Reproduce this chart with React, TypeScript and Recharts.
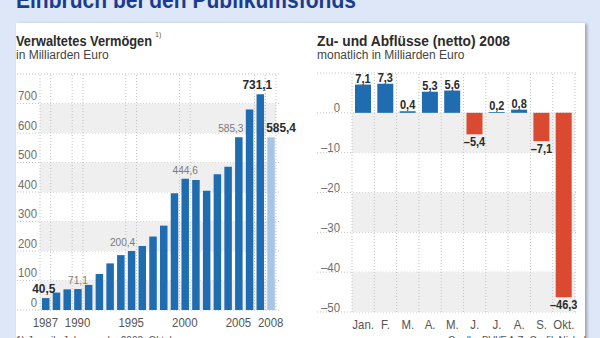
import React from 'react';
import {
  BarChart,
  Bar,
  XAxis,
  YAxis,
  CartesianGrid,
  ReferenceArea,
  ReferenceLine,
  LabelList,
  Cell,
} from 'recharts';

// ---------- data: left chart (Verwaltetes Vermögen) ----------
const years = [
  1987, 1988, 1989, 1990, 1991, 1992, 1993, 1994, 1995, 1996, 1997,
  1998, 1999, 2000, 2001, 2002, 2003, 2004, 2005, 2006, 2007, 2008,
];
const assetValues = [
  40.5, 59, 70, 71.1, 85, 122, 158, 186, 200.4, 217, 249,
  286, 396, 444.6, 441, 404, 460, 486, 585.3, 680, 731.1, 585.4,
];
const assetTickYears = [1987, 1990, 1995, 2000, 2005, 2008];
const assetAxisTicks = [0, 100, 200, 300, 400, 500, 600, 700, 800];
const assetLabelYears = [1987, 1990, 1995, 2000, 2005, 2007, 2008];
const assetLabelTexts = ['40,5', '71,1', '200,4', '444,6', '585,3', '731,1', '585,4'];
const assetBoldLabelYears = [1987, 2007, 2008];
const assetGridYears = [1987, 1990, 1995, 2000, 2007, 2008];
const assetShadedBands = [
  [0, 100],
  [200, 300],
  [400, 500],
  [600, 700],
];
const forecastYear = 2008;

// ---------- data: right chart (Zu- und Abflüsse) ----------
const months = ['Jan.', 'F.', 'M.', 'A.', 'M.', 'J.', 'J.', 'A.', 'S.', 'Okt.'];
const flowValues = [7.1, 7.3, 0.4, 5.3, 5.6, -5.4, 0.2, 0.8, -7.1, -46.3];
const flowAxisTicks = [10, 0, -10, -20, -30, -40, -50];
const flowShadedBands = [
  [-10, 0],
  [-30, -20],
  [-50, -40],
];

// ---------- styles ----------
const FONT = '"Liberation Sans", Arial, sans-serif';
const SX = 0.88; // horizontal condensing of label text
const BLUE = '#1f6cb0';
const LIGHT_BLUE = '#a8c4e6';
const RED = '#d94a30';
const BAND = '#efefef';
const GRID = '#c2c2c2';
const TICK = '#707070';
const DARK = '#2a2a2a';

// per-label horizontal nudges (style only)
const assetLabelDx: Record<number, number> = { 1987: -2, 1995: -9, 2005: -8, 2007: -3, 2008: 10 };

const assetData = years.map((y, i) => ({ year: y, value: assetValues[i] }));
const flowData = months.map((m, i) => ({ id: i, month: m, value: flowValues[i] }));

const fmt = (v: number) => (v < 0 ? '\u2013' : '') + Math.abs(v).toFixed(1).replace('.', ',');
const fmtTick = (v: number) => (v < 0 ? '\u2013' : '') + Math.abs(v);

function T(props: any) {
  const { x, y, size, weight = 400, anchor = 'start', fill = DARK, sx = SX, dy, children } = props;
  return (
    <text
      transform={`translate(${x},${y}) scale(${sx},1)`}
      x={0}
      y={0}
      dy={dy}
      textAnchor={anchor}
      fontFamily={FONT}
      fontSize={size}
      fontWeight={weight}
      fill={fill}
    >
      {children}
    </text>
  );
}

function YearTick(props: any) {
  const { x, y, payload } = props;
  if (!assetTickYears.includes(payload.value)) return null;
  return (
    <T x={x} y={y + 9} size={13} anchor="middle" fill="#555">
      {payload.value}
    </T>
  );
}

function AssetTick(props: any) {
  const { y, payload } = props;
  if (payload.value === 800) return null;
  return (
    <T x={37} y={y - 3.5} size={13} anchor="end" fill={TICK}>
      {payload.value}
    </T>
  );
}

function AssetLabel(props: any) {
  const vb = props.viewBox || props;
  const { x, y, width } = vb;
  const year = props.value;
  const idx = assetLabelYears.indexOf(year);
  if (idx < 0) return null;
  const bold = assetBoldLabelYears.includes(year);
  return (
    <T
      x={x + width / 2 + (assetLabelDx[year] || 0)}
      y={y - 5}
      anchor="middle"
      size={bold ? 13.5 : 11.5}
      weight={bold ? 700 : 400}
      fill={bold ? DARK : '#7a7a7a'}
    >
      {assetLabelTexts[idx]}
    </T>
  );
}

function MonthTick(props: any) {
  const { x, y, payload } = props;
  return (
    <T x={x} y={y + 9} size={13} anchor="middle" fill="#555">
      {months[payload.value]}
    </T>
  );
}

function FlowTick(props: any) {
  const { y, payload } = props;
  if (payload.value === 10) return null;
  return (
    <T x={40} y={y - 0.5} size={13} anchor="end" fill={TICK}>
      {fmtTick(payload.value)}
    </T>
  );
}

function FlowLabel(props: any) {
  const vb = props.viewBox || props;
  const { x, y, width, height } = vb;
  const v = Number(props.value);
  const top = Math.min(y, y + height);
  const bottom = Math.max(y, y + height);
  return (
    <T x={x + width / 2} y={v >= 0 ? top - 2 : bottom + 12} anchor="middle" size={12.5} weight={700} fill={DARK}>
      {fmt(v)}
    </T>
  );
}

function AssetsChart() {
  return (
    <BarChart width={300} height={338} data={assetData} margin={{ top: 74, right: 20, left: 16, bottom: 0 }}>
      {assetShadedBands.map(([a, b]) => (
        <ReferenceArea key={'b' + a} y1={a} y2={b} fill={BAND} fillOpacity={1} stroke="none" />
      ))}
      <CartesianGrid vertical={false} stroke={GRID} strokeDasharray="1 2" />
      {assetGridYears.map((y) => (
        <ReferenceLine key={'s' + y} x={y} position="start" stroke={GRID} strokeDasharray="1 2" />
      ))}
      {assetGridYears.map((y) => (
        <ReferenceLine key={'e' + y} x={y} position="end" stroke={GRID} strokeDasharray="1 2" />
      ))}
      <XAxis
        dataKey="year"
        padding={{ left: 23, right: 4 }}
        height={28}
        axisLine={false}
        tickLine={false}
        interval={0}
        tick={<YearTick />}
      />
      <YAxis
        domain={[0, 800]}
        ticks={assetAxisTicks}
        width={1}
        axisLine={false}
        tickLine={false}
        interval={0}
        tick={<AssetTick />}
      />
      <Bar dataKey="value" barSize={7.5} isAnimationActive={false}>
        {assetData.map((d) => (
          <Cell key={d.year} fill={d.year === forecastYear ? LIGHT_BLUE : BLUE} />
        ))}
        <LabelList dataKey="year" content={<AssetLabel />} />
      </Bar>
    </BarChart>
  );
}

function FlowsChart() {
  return (
    <BarChart width={300} height={338} data={flowData} margin={{ top: 73, right: 22, left: 16, bottom: 0 }}>
      {flowShadedBands.map(([a, b]) => (
        <ReferenceArea key={'b' + a} y1={a} y2={b} fill={BAND} fillOpacity={1} stroke="none" />
      ))}
      <CartesianGrid vertical={false} stroke={GRID} strokeDasharray="1 2" />
      {flowData.map((d) => (
        <ReferenceLine key={'s' + d.id} x={d.id} position="start" stroke={GRID} strokeDasharray="1 2" />
      ))}
      <ReferenceLine x={flowData[flowData.length - 1].id} position="end" stroke={GRID} strokeDasharray="1 2" />
      <XAxis
        dataKey="id"
        padding={{ left: 35, right: 3 }}
        height={26}
        axisLine={false}
        tickLine={false}
        interval={0}
        tick={<MonthTick />}
      />
      <YAxis
        domain={[-50, 10]}
        ticks={flowAxisTicks}
        width={1}
        axisLine={false}
        tickLine={false}
        interval={0}
        tick={<FlowTick />}
      />
      <Bar dataKey="value" barSize={16} isAnimationActive={false}>
        {flowData.map((d) => (
          <Cell key={d.id} fill={d.value >= 0 ? BLUE : RED} />
        ))}
        <LabelList dataKey="value" content={<FlowLabel />} />
      </Bar>
    </BarChart>
  );
}

export default function App() {
  return (
    <div
      style={{
        position: 'absolute',
        left: 0,
        top: 0,
        width: 600,
        height: 338,
        overflow: 'hidden',
        background: '#dde7f7',
        fontFamily: FONT,
      }}
    >
      <div
        style={{
          position: 'absolute',
          left: 16,
          top: 23,
          width: 569,
          height: 330,
          background: '#ffffff',
          boxShadow: '2px 1px 3px rgba(0,0,0,0.3)',
        }}
      />
      <div style={{ position: 'absolute', left: 0, top: 0 }}>
        <AssetsChart />
      </div>
      <div style={{ position: 'absolute', left: 300, top: 0 }}>
        <FlowsChart />
      </div>
      <svg width={600} height={338} style={{ position: 'absolute', left: 0, top: 0, pointerEvents: 'none' }}>
        <text x={16} y={8} fontFamily={FONT} fontSize={24} fontWeight={700} fill="#1b3c8e" textLength={340} lengthAdjust="spacingAndGlyphs">
          Einbruch bei den Publikumsfonds
        </text>
        <text x={16} y={46} fontFamily={FONT} fontSize={14.5} fontWeight={700} fill="#2b2b2b" textLength={136} lengthAdjust="spacingAndGlyphs">
          Verwaltetes Vermögen
        </text>
        <text x={155} y={37} fontFamily={FONT} fontSize={7} fill="#555">
          1)
        </text>
        <text x={16} y={59} fontFamily={FONT} fontSize={12} fill="#444">
          in Milliarden Euro
        </text>
        <text x={317} y={46} fontFamily={FONT} fontSize={14.5} fontWeight={700} fill="#2b2b2b" textLength={193} lengthAdjust="spacingAndGlyphs">
          Zu- und Abflüsse (netto) 2008
        </text>
        <text x={317} y={59} fontFamily={FONT} fontSize={12} fill="#444">
          monatlich in Milliarden Euro
        </text>
        <text x={16} y={344} fontFamily={FONT} fontSize={11.5} fill="#555" textLength={168} lengthAdjust="spacingAndGlyphs">
          1) Jeweils Jahresende, 2008: Oktober
        </text>
        <text x={448} y={344} fontFamily={FONT} fontSize={11.5} fill="#555" textLength={138} lengthAdjust="spacingAndGlyphs">
          Quelle: BVI/F.A.Z.-Grafik Nichel
        </text>
      </svg>
    </div>
  );
}
